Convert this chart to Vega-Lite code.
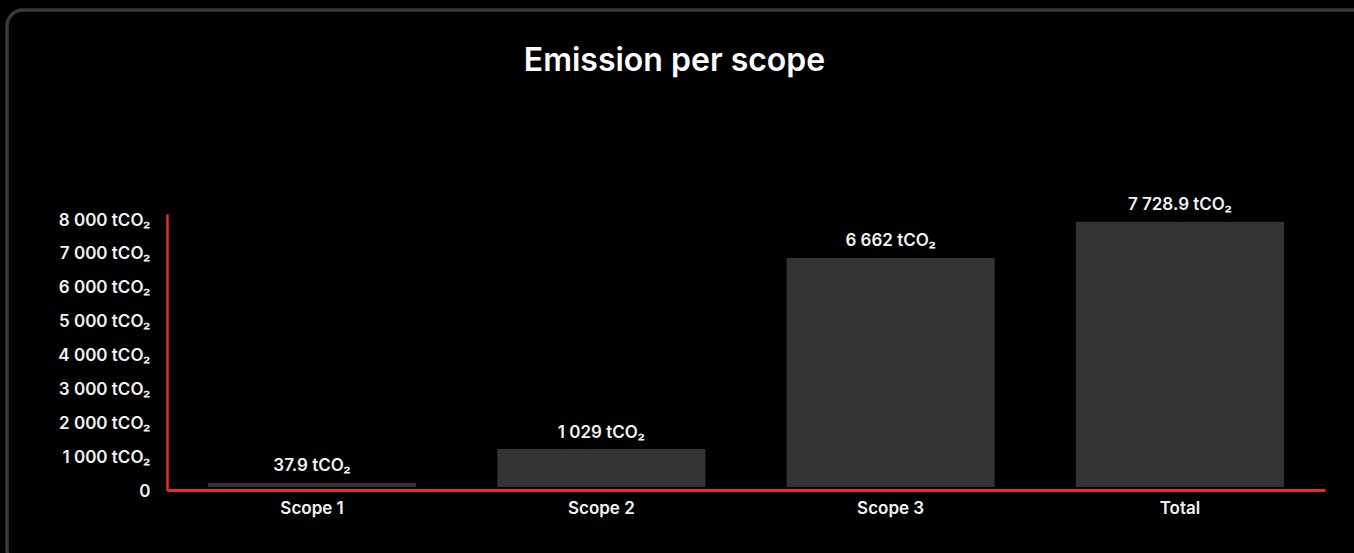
{
  "$schema": "https://vega.github.io/schema/vega-lite/v6.json",
  "autosize": {"type": "none"},
  "width": 1367,
  "height": 555,
  "padding": {"left": 7, "top": 10, "right": -20, "bottom": -12},
  "background": "#000000",
  "title": {
    "text": "Emission per scope",
    "font": "Inter",
    "fontSize": 32,
    "fontWeight": 600,
    "color": "#ffffff",
    "anchor": "middle",
    "baseline": "alphabetic",
    "offset": -93,
    "dx": -16
  },
  "data": {
    "values": [
      {"scope": "Scope 1", "value": 37.9, "label": "37.9 tCO₂"},
      {"scope": "Scope 2", "value": 1029, "label": "1 029 tCO₂"},
      {"scope": "Scope 3", "value": 6662, "label": "6 662 tCO₂"},
      {"scope": "Total", "value": 7728.9, "label": "7 728.9 tCO₂"}
    ]
  },
  "encoding": {
    "x": {
      "field": "scope",
      "type": "nominal",
      "sort": null,
      "scale": {"range": [160, 1318], "paddingInner": 0.291, "paddingOuter": 0.147},
      "axis": {
        "title": null,
        "ticks": false,
        "domainColor": "#e62b2b",
        "domainWidth": 3,
        "offset": -75,
        "labelPadding": 10,
        "labelAngle": 0,
        "labelFont": "Inter",
        "labelFontSize": 17,
        "labelFontWeight": 600,
        "labelColor": "#f2f2f2",
        "zindex": 1
      }
    },
    "y": {
      "field": "value",
      "type": "quantitative",
      "scale": {"domain": [-150, 8000], "range": [480.6, 204], "nice": false},
      "axis": {
        "values": [0, 1000, 2000, 3000, 4000, 5000, 6000, 7000, 8000],
        "labelExpr": "datum.value == 0 ? '0' : (datum.value / 1000) + ' 000 tCO₂'",
        "title": null,
        "ticks": false,
        "grid": false,
        "domainColor": "#e62b2b",
        "domainWidth": 2.5,
        "offset": -160,
        "labelPadding": 17,
        "labelFont": "Inter",
        "labelFontSize": 17,
        "labelFontWeight": 600,
        "labelColor": "#f2f2f2",
        "labelOffset": 6,
        "labelBaseline": "middle",
        "zindex": 1
      }
    }
  },
  "layer": [
    {
      "mark": {"type": "bar", "color": "#333333", "stroke": "#333333", "strokeWidth": 3}
    },
    {
      "mark": {
        "type": "text",
        "baseline": "alphabetic",
        "dy": -13,
        "font": "Inter",
        "fontSize": 17,
        "fontWeight": 600,
        "color": "#f2f2f2"
      },
      "encoding": {"text": {"field": "label"}}
    }
  ],
  "config": {
    "view": {"stroke": "#3a3a3a", "strokeWidth": 3.5, "cornerRadius": 16, "fill": "#000000"}
  }
}
